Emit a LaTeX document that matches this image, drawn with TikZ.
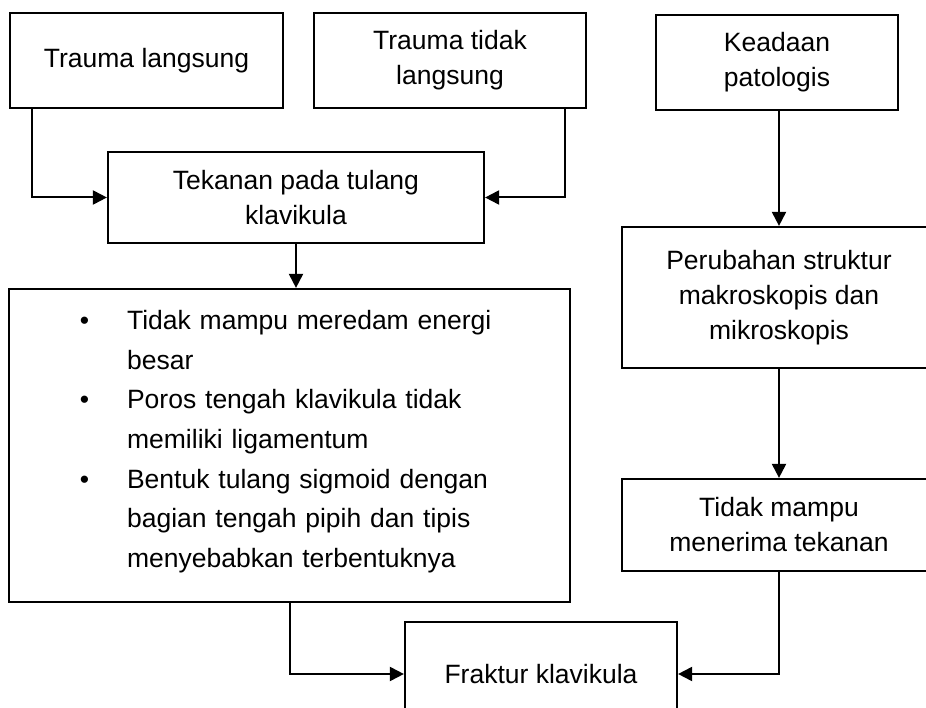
\documentclass[tikz,border=0pt]{standalone}
\usepackage{fontspec}
\setmainfont{Liberation Sans}
\usetikzlibrary{calc}
\usetikzlibrary{arrows.meta}

\begin{document}
\begin{tikzpicture} [x=1pt,y=-1pt,
  box/.style={draw=black,line width=2.2pt,align=center,inner sep=0pt,
    font=\fontsize{26.5pt}{35pt}\selectfont},
  arr/.style={line width=2pt,-{Triangle[length=14pt,width=14pt]}}]

\useasboundingbox (0,0) rectangle (926,708);
\clip (0,0) rectangle (926,708);

\node[box,minimum width=273,minimum height=95] (tl) at (146.5,60.5) {Trauma langsung};
\node[box,minimum width=272,minimum height=95] (ttl) at (450,60.5) {Trauma tidak\\langsung};
\node[box,minimum width=242,minimum height=95] (kp) at (777,62.5) {Keadaan\\patologis};

\node[box,minimum width=376,minimum height=91] (tek) at (296,197.5) {Tekanan pada tulang\\klavikula};
\node[box,minimum width=314,minimum height=141] (pers) at (779,297.5) {Perubahan struktur\\makroskopis dan\\mikroskopis};

\node[box,minimum width=561,minimum height=313] (ket) at (289.5,445.5) {};
\node[anchor=north west,inner sep=0pt,text width=410pt,align=left,
  font=\fontsize{26.5pt}{39.7pt}\selectfont] (ketlist) at ([xshift=119pt,yshift=-22pt]ket.north west)
  {\leavevmode\llap{\textbullet\hspace{38pt}}Tidak mampu meredam energi besar\\
   \leavevmode\llap{\textbullet\hspace{38pt}}Poros tengah klavikula tidak memiliki ligamentum\\
   \leavevmode\llap{\textbullet\hspace{38pt}}Bentuk tulang sigmoid dengan bagian tengah pipih dan tipis menyebabkan terbentuknya};

\node[box,minimum width=314,minimum height=92] (tdk) at (779,525) {Tidak mampu\\menerima tekanan};
\node[box,minimum width=272,minimum height=104] (frak) at (541,674) {Fraktur klavikula};

\draw[arr] ([xshift=23pt]tl.south west) |- (tek.west);
\draw[arr] ([xshift=-22pt]ttl.south east) |- (tek.east);
\draw[arr] (tek.south) -- (tek.south |- ket.north);
\draw[arr] (pers.north |- kp.south) -- (pers.north);
\draw[arr] (pers.south) -- (tdk.north);
\draw[arr] (ket.south) |- (frak.west);
\draw[arr] (tdk.south) |- (frak.east);

\end{tikzpicture}
\end{document}
